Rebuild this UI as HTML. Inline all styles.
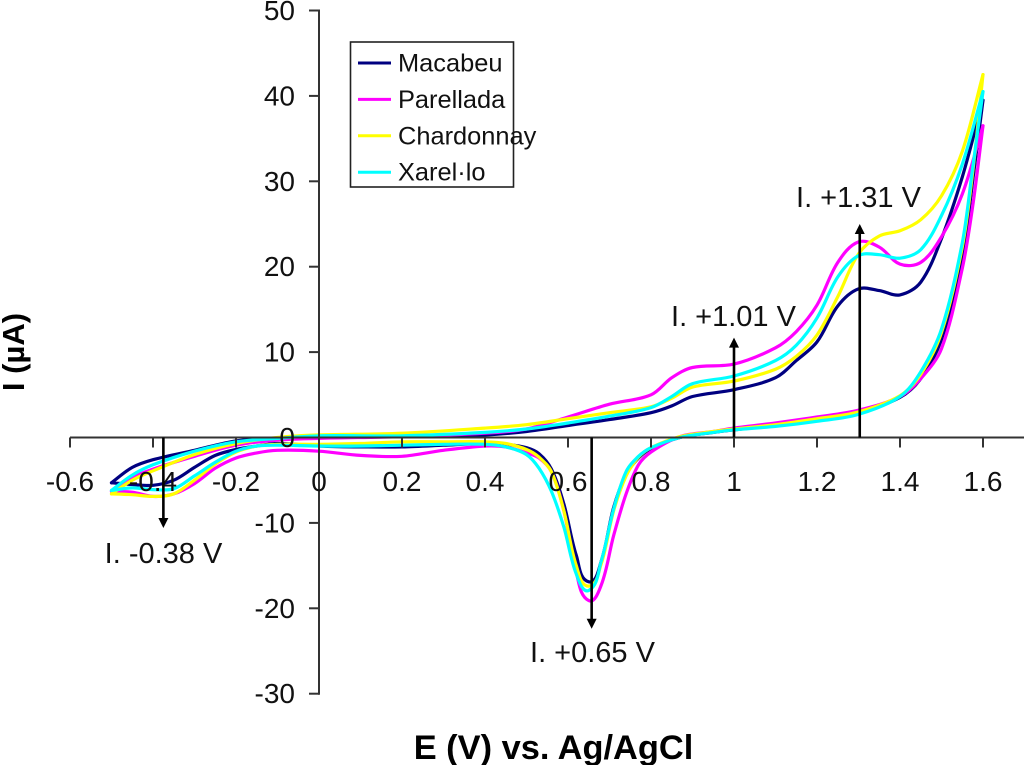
<!DOCTYPE html>
<html lang="en">
<head>
<meta charset="utf-8">
<title>Cyclic voltammograms</title>
<style>
html,body{margin:0;padding:0;background:#fff;}
svg{display:block;font-family:"Liberation Sans",Arial,sans-serif;}
</style>
</head>
<body>
<svg id="chart" xmlns="http://www.w3.org/2000/svg" width="1024" height="765" viewBox="0 0 1024 765"></svg>
<script>
const seriesNames = ["Macabeu", "Parellada", "Chardonnay", "Xarel·lo"];
const seriesColors = ["#000080", "#ff00ff", "#ffff00", "#00ffff"];
const xTicks = [-0.6, -0.4, -0.2, 0, 0.2, 0.4, 0.6, 0.8, 1, 1.2, 1.4, 1.6];
const yTicks = [50, 40, 30, 20, 10, 0, -10, -20, -30];

const upperPotentials = [-0.5,-0.45,-0.4,-0.3,-0.2,-0.1,0,0.2,0.4,0.5,0.6,0.7,0.8,0.85,0.9,1.0,1.1,1.15,1.2,1.25,1.3,1.35,1.4,1.45,1.5,1.55,1.6];
const lowerPotentials = [-0.5,-0.45,-0.4,-0.35,-0.3,-0.25,-0.2,-0.15,-0.1,0,0.1,0.2,0.3,0.4,0.45,0.5,0.53,0.56,0.59,0.62,0.65,0.68,0.71,0.74,0.77,0.8,0.87,0.95,1.0,1.1,1.2,1.3,1.4,1.45,1.5,1.55,1.575,1.6];

const macabeuUpper = [-5.3,-3.5,-2.6,-1.5,-0.4,-0.1,0,0.1,0.3,0.7,1.4,2.1,2.9,3.7,4.8,5.6,7,9,11.2,15.4,17.4,17.2,16.7,18.2,23.3,30.5,39.5];
const parelladaUpper = [-6.3,-4.7,-3.7,-2.2,-0.9,-0.3,-0.1,0.1,0.5,1,2.4,3.9,5,7,8.2,8.6,10.5,12.4,15.5,20.5,22.9,22.3,20.3,20.5,23.5,28.5,36.5];
const chardonnayUpper = [-6.6,-5,-3.9,-2,-0.7,0,0.3,0.5,1.1,1.5,2.2,2.9,3.6,4.6,5.9,6.6,8,9.5,12,16.5,21.5,23.6,24.2,25.5,28.3,33.5,42.5];
const xarelloUpper = [-6.2,-4.4,-3.2,-1.6,-0.5,-0.1,0.2,0.2,0.6,1,1.7,2.5,3.5,4.8,6.3,7.2,9,10.8,14,18.8,21.3,21.4,21,22,26,32,40.5];

const macabeuLower = [-5.3,-5.5,-5.6,-5,-3.5,-2.1,-1.4,-1,-0.7,-1,-1.1,-1.1,-0.9,-0.7,-0.8,-1.2,-1.9,-3.7,-7.8,-13.8,-16.9,-14.5,-8.2,-4.3,-2.4,-1.3,0,0.6,0.9,1.4,2,2.9,4.7,6.9,11.5,21,30,39.5];
const parelladaLower = [-6.3,-6.4,-6.9,-6.6,-5.4,-3.6,-2.4,-1.8,-1.5,-1.6,-2.1,-2.2,-1.5,-1,-1.1,-1.8,-2.4,-4,-8.6,-15.8,-19.1,-17.3,-11.5,-6.6,-3.2,-1.7,0.1,0.7,1.1,1.7,2.4,3.2,4.8,6.9,10.4,19.8,27,36.5];
const chardonnayLower = [-6.6,-6.7,-6.9,-6.6,-5,-3.1,-1.7,-1,-0.8,-0.8,-0.7,-0.5,-0.5,-0.5,-0.7,-1.4,-2.3,-4,-8.6,-15,-17.4,-14.8,-8.6,-4.5,-2.3,-1.2,0.1,0.7,1,1.5,2.2,3,4.9,7.4,12.3,22.3,31,42.5];
const xarelloLower = [-6.2,-5.9,-6.1,-6,-4.5,-2.9,-1.6,-1,-0.9,-1,-1,-0.9,-0.8,-0.8,-1.1,-2,-3.6,-6.3,-10.5,-16,-17.9,-14.5,-8.4,-4,-2.2,-1.2,0,0.6,0.9,1.3,1.9,2.7,4.8,7.7,12.7,22.8,31.5,40.5];

const upperSeries = [macabeuUpper, parelladaUpper, chardonnayUpper, xarelloUpper];
const lowerSeries = [macabeuLower, parelladaLower, chardonnayLower, xarelloLower];

const annotationPotentials = [-0.375, 0.657, 1.0, 1.303];
const annotationEnds = [-10.6, -22.4, 11.7, 25];
const annotationLabels = ["I. -0.38 V", "I. +0.65 V", "I. +1.01 V", "I. +1.31 V"];

const svg = document.getElementById('chart');
const NS = 'http://www.w3.org/2000/svg';
function xScale(v){ return 319 + v * 415; }
function yScale(v){ return 437.5 - v * 8.54; }

function make(tag, attrs, parent, text){
  const el = document.createElementNS(NS, tag);
  for (const k in attrs) el.setAttribute(k, attrs[k]);
  if (text !== undefined) el.textContent = text;
  (parent || svg).appendChild(el);
  return el;
}
function unit(a, b){
  const dx = b[0] - a[0], dy = b[1] - a[1], n = Math.hypot(dx, dy) || 1;
  return [dx / n, dy / n];
}
function smoothPath(pts){
  let d = 'M' + pts[0][0].toFixed(1) + ' ' + pts[0][1].toFixed(1);
  for (let i = 0; i < pts.length - 1; i++){
    const p0 = pts[Math.max(0, i - 1)], p1 = pts[i], p2 = pts[i + 1], p3 = pts[Math.min(pts.length - 1, i + 2)];
    const len = Math.hypot(p2[0] - p1[0], p2[1] - p1[1]) / 3;
    const t1 = unit(p0, p2), t2 = unit(p1, p3);
    d += 'C' + (p1[0] + t1[0] * len).toFixed(1) + ' ' + (p1[1] + t1[1] * len).toFixed(1) + ' ' +
         (p2[0] - t2[0] * len).toFixed(1) + ' ' + (p2[1] - t2[1] * len).toFixed(1) + ' ' +
         p2[0].toFixed(1) + ' ' + p2[1].toFixed(1);
  }
  return d;
}

/* curves */
const curves = make('g', {fill:'none', 'stroke-width':3.2, 'stroke-linejoin':'round', 'stroke-linecap':'round'});


seriesNames.forEach(function(name, s){
  const up = upperPotentials.map(function(e, i){ return [xScale(e), yScale(upperSeries[s][i])]; });
  const low = lowerPotentials.map(function(e, i){ return [xScale(e), yScale(lowerSeries[s][i])]; });
  const a = make('path', {d: smoothPath(up), stroke: seriesColors[s]}, curves);
  
  
  const b = make('path', {d: smoothPath(low), stroke: seriesColors[s]}, curves);
  
  
});

/* axes */
const axes = make('g', {stroke:'#333', 'stroke-width':2, fill:'none'});


const xAxis = make('line', {x1:xScale(-0.6), x2:1024, y1:yScale(0), y2:yScale(0)}, axes);


const yAxis = make('line', {x1:xScale(0), x2:xScale(0), y1:yScale(50)-1, y2:yScale(-30)+1}, axes);


xTicks.forEach(function(t){
  const tick = make('line', {x1:xScale(t), x2:xScale(t), y1:yScale(0), y2:yScale(0)+10}, axes);
  
  
  const label = make('text', {x:xScale(t), y:491, 'text-anchor':'middle', 'font-size':28, fill:'#111'}, svg, String(t));
  
  
});
yTicks.forEach(function(t){
  const tick = make('line', {x1:xScale(0)-10, x2:xScale(0), y1:yScale(t), y2:yScale(t)}, axes);
  
  
  const label = make('text', {x:295, y:yScale(t)+9.5, 'text-anchor':'end', 'font-size':28, fill:'#111'}, svg, String(t));
  
  
});

/* annotation arrows */
const annotationLabelPos = [[163.5,563],[592.5,662],[733.5,326],[858.5,207]];
annotationPotentials.forEach(function(e, i){
  const x = xScale(e), y1 = yScale(0), y2 = yScale(annotationEnds[i]);
  const dir = y2 > y1 ? 1 : -1;
  const shaft = make('line', {x1:x, x2:x, y1:y1, y2:y2 - dir * 8, stroke:'#000', 'stroke-width':2.6});
  
  
  const head = make('polygon', {points:(x-5)+','+(y2-dir*10)+' '+(x+5)+','+(y2-dir*10)+' '+x+','+y2, fill:'#000'});
  
  
  const label = make('text', {x:annotationLabelPos[i][0], y:annotationLabelPos[i][1], 'text-anchor':'middle', 'font-size':29, fill:'#111'}, svg, annotationLabels[i]);
  
  
});

/* axis titles */
const xTitle = make('text', {x:553.5, y:759, 'text-anchor':'middle', 'font-size':34.4, 'font-weight':'bold', fill:'#000'}, svg, 'E (V) vs. Ag/AgCl');


const yTitle = make('text', {x:0, y:0, transform:'translate(24,352) rotate(-90)', 'text-anchor':'middle', 'font-size':31, 'font-weight':'bold', fill:'#000'}, svg, 'I (µA)');



/* legend */
const legend = make('g', {});


const legendBox = make('rect', {x:350.5, y:42, width:163, height:145, fill:'#fff', stroke:'#222', 'stroke-width':1.6}, legend);


seriesNames.forEach(function(name, i){
  const y = 63 + i * 36.4;
  const swatch = make('line', {x1:358, x2:391, y1:y, y2:y, stroke:seriesColors[i], 'stroke-width':3}, legend);
  
  
  const label = make('text', {x:398, y:y+8.5, 'font-size':25.4, fill:'#111'}, legend, name);
  
  
});
</script>
</body>
</html>
